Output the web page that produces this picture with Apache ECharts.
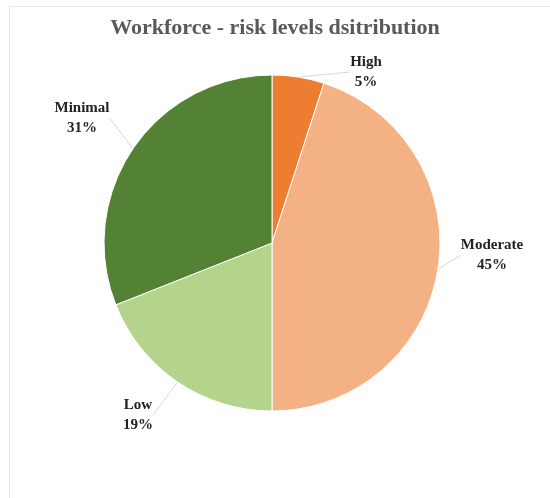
<!DOCTYPE html>
<html>
<head>
<meta charset="utf-8">
<script src="https://cdn.jsdelivr.net/npm/echarts@6/dist/echarts.min.js"></script>
<style>
  html, body { margin: 0; padding: 0; background: #fff; }
  #chart { width: 550px; height: 498px; }
</style>
</head>
<body>
<div id="chart"></div>
<script>
// risk level categories and their share of the workforce (%)
const categories = ['High', 'Moderate', 'Low', 'Minimal'];
const shares = [5, 45, 19, 31];
const colors = ['#ED7D31', '#F4B183', '#B4D38B', '#548235'];

// where each label sits (centre of the text block)
const labelSpots = [[366, 72], [492, 255], [138, 415], [82, 118]];

const serif = '"Palatino Linotype", Palatino, "Liberation Serif", serif';

const myChart = echarts.init(document.getElementById('chart'));

const option = {
    animation: false,
    backgroundColor: '#fff',
    title: {
        text: 'Workforce - risk levels dsitribution',
        left: 'center',
        top: 12,
        textStyle: {
            fontFamily: serif,
            fontSize: 22,
            fontWeight: 'bold',
            color: '#595959'
        }
    },
    graphic: [{
        type: 'rect',
        shape: { x: 9.5, y: 6.5, width: 600, height: 600 },
        style: { fill: 'none', stroke: '#e8e8e8', lineWidth: 1 },
        silent: true
    }],
    series: [{
        type: 'pie',
        center: [272, 243],
        radius: [0, 168],
        startAngle: 90,
        clockwise: true,
        data: categories.map((name, i) => ({
            name: name,
            value: shares[i],
            itemStyle: { color: colors[i] }
        })),
        itemStyle: { borderColor: '#fff', borderWidth: 1 },
        label: {
            show: true,
            position: 'outside',
            formatter: '{a|{b}}\n{a|{d}%}',
            rich: {
                a: {
                    fontFamily: serif,
                    fontSize: 15,
                    fontWeight: 'bold',
                    color: '#222',
                    lineHeight: 20,
                    align: 'center'
                }
            }
        },
        labelLine: {
            show: true,
            length: 0,
            length2: 0,
            lineStyle: { color: '#d9d9d9', width: 1 }
        },
        labelLayout: function (params) {
            const p = labelSpots[params.dataIndex];
            return { x: p[0], y: p[1], align: 'center', verticalAlign: 'middle' };
        }
    }]
};

option && myChart.setOption(option);
</script>
</body>
</html>
